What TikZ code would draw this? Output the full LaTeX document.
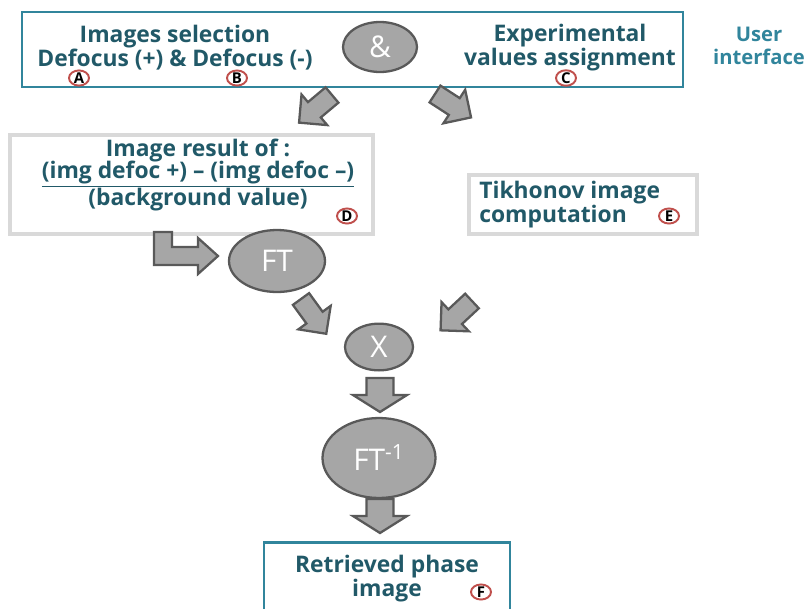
\documentclass[tikz,border=0pt]{standalone}
\usepackage{fontspec}
\setmainfont{Open Sans}
\usepackage{tikz}
\usetikzlibrary{shapes.geometric}
\usetikzlibrary{arrows.meta}

\definecolor{tealtext}{HTML}{215968}
\definecolor{tealline}{HTML}{31859C}
\definecolor{boxgray}{HTML}{D9D9D9}
\definecolor{opgray}{HTML}{A6A6A6}
\definecolor{edgegray}{HTML}{595959}
\definecolor{badgered}{HTML}{C0504D}

\newcommand{\tightlines}{\lineskiplimit=-20pt\relax}

\tikzset{
  label/.style={text=tealtext, font=\fontsize{13}{13.7}\selectfont\bfseries, inner sep=0pt},
  badge/.style={ellipse, draw=badgered, line width=1.1pt, fill=white, inner sep=0pt,
    minimum width=0.4cm, minimum height=0.27cm, font=\fontsize{8.5}{9}\selectfont\bfseries},
  opnode/.style={ellipse, fill=opgray, draw=edgegray, line width=1.3pt, text=white,
    font=\fontsize{17}{19}\selectfont},
  bluebox/.style={draw=tealline, line width=1.2pt, fill=white},
  graybox/.style={draw=boxgray, line width=1.8pt, fill=white},
  fatarrow/.style={fill=opgray, draw=edgegray, line width=1.3pt, line join=miter},
  blockdown/.pic={\draw[fatarrow] (-13.5,0) -- (13.5,0) -- (13.5,17) -- (27,17) -- (0,34)
    -- (-27,17) -- (-13.5,17) -- cycle;},
  blockdiag/.pic={\draw[fatarrow] (-10,0) -- (10,0) -- (10,23) -- (20,23) -- (0,43)
    -- (-20,23) -- (-10,23) -- cycle;}
}

\begin{document}
\begin{tikzpicture}[x=0.02cm, y=-0.02cm]
      \useasboundingbox (0,0) rectangle (809,609);
      \clip (0,0) rectangle (809,609);

      % user interface box
      \node[bluebox, minimum width=13.22cm, minimum height=1.5cm] (ui) at (352.5,49.5) {};
      \node[label, align=center] (sel) at (175,48) {Images selection\\Defocus (+) \& Defocus (-)};
      \node[label, align=center] (exp) at (570,48) {Experimental\\values assignment};
      \node[opnode, minimum width=1.48cm, minimum height=1.0cm] (and) at (380,47) {\&};
      \node[badge] (ba) at (79,78) {A};
      \node[badge] (bb) at (237,78) {B};
      \node[badge] (bc) at (566,78) {C};
      \node[label, text=tealline, font=\fontsize{11.5}{13}\selectfont\bfseries, align=center]
        (user) at (759,46) {User\\interface};

      \pic[rotate=-50] at (332,95) {blockdiag};
      \pic[rotate=57] at (435,94) {blockdiag};

      % normalised image and Tikhonov
      \node[graybox, minimum width=7.26cm, minimum height=1.98cm] (norm) at (191.5,184.5) {};
      \node[label, font=\fontsize{13}{12.5}\selectfont\bfseries\tightlines, align=center]
        (normtxt) at (198,175)
        {Image result of :\\\underline{(img defoc +) -- (img defoc --)}\\[3pt](background value)};
      \node[badge] (bd) at (347,216) {D};
      \node[graybox, minimum width=4.56cm, minimum height=1.18cm] (tik) at (583,204.5) {};
      \node[label, align=left, anchor=west] (tiktxt) at (479,205) {Tikhonov image\\computation};
      \node[badge] (be) at (669,216) {E};

      \draw[fatarrow] (154,232) -- (172,232) -- (172,247) -- (198,247) -- (198,238) -- (218,256)
        -- (198,274) -- (198,265) -- (154,265) -- cycle;

      % operations
      \node[opnode, minimum width=1.92cm, minimum height=1.24cm] (ft) at (277,261) {FT};
      \pic[rotate=36] at (301,299) {blockdiag};
      \pic[rotate=-47] at (472,301) {blockdiag};
      \node[opnode, minimum width=1.36cm, minimum height=0.92cm] (mult) at (379,347) {X};
      \pic at (380,378) {blockdown};
      \node[opnode, minimum width=2.26cm, minimum height=1.6cm] (ftinv) at (379,458) {FT\textsuperscript{-1}};
      \pic at (380,499) {blockdown};

      % result
      \node[bluebox, minimum width=4.92cm, minimum height=1.9cm] (res) at (387,590) {};
      \node[label, align=center] (restxt) at (387,579) {Retrieved phase\\image};
      \node[badge] (bf) at (481,592) {F};
\end{tikzpicture}
\end{document}
